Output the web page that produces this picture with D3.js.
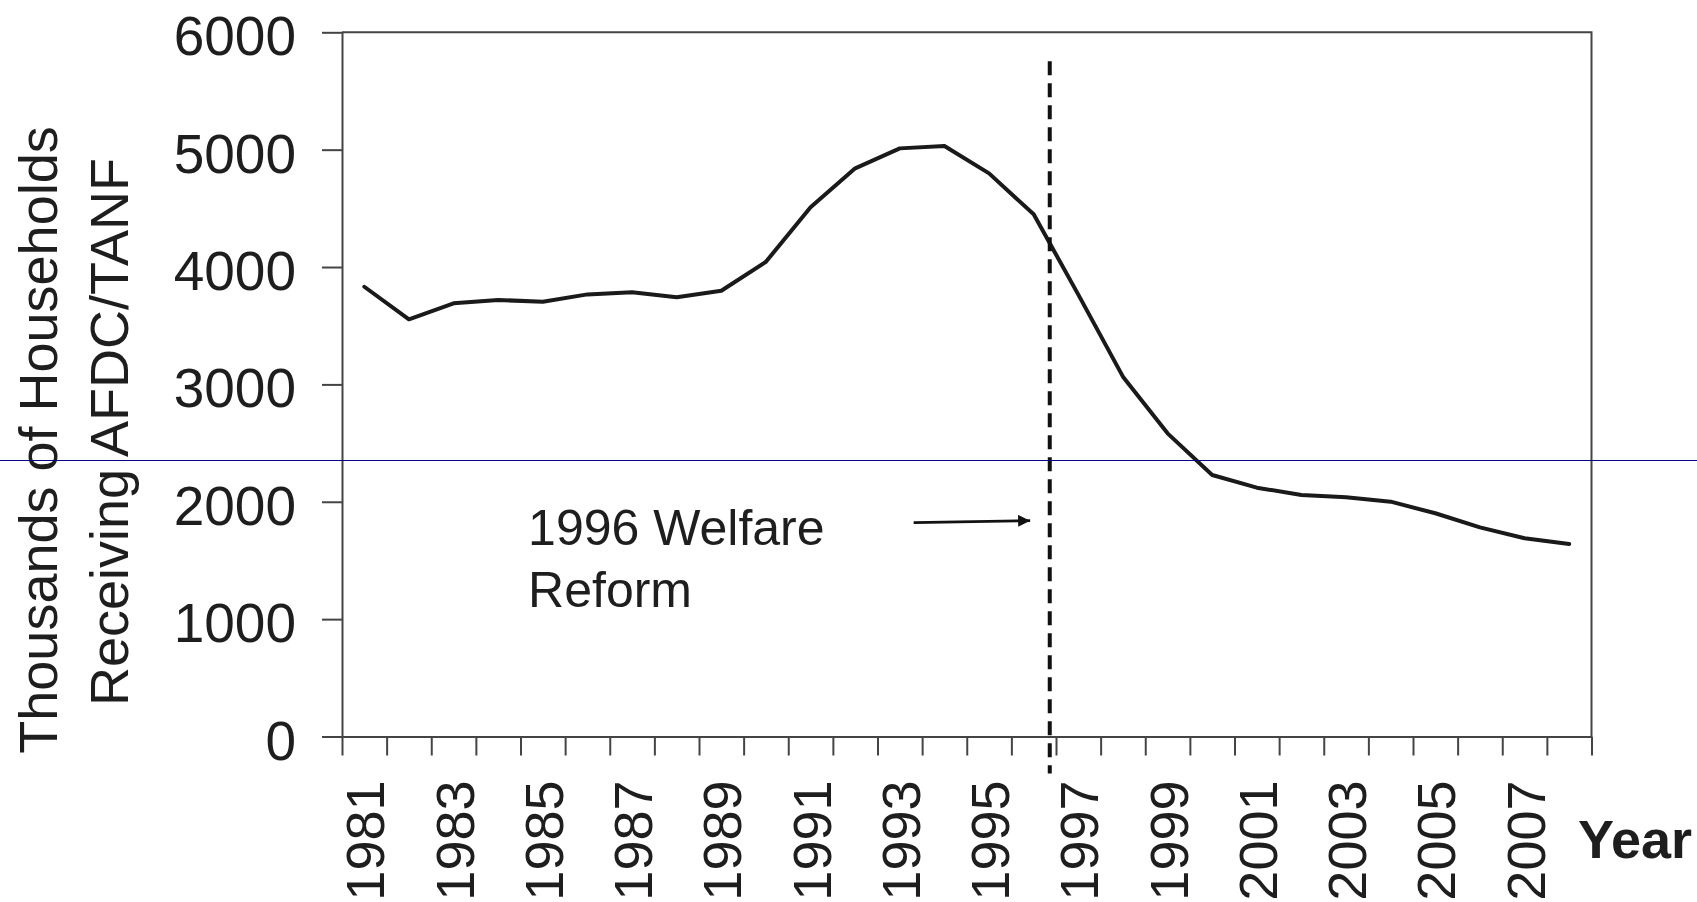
<!DOCTYPE html>
<html>
<head>
<meta charset="utf-8">
<script src="https://cdn.jsdelivr.net/npm/d3@7"></script>
<style>
  html, body { margin: 0; padding: 0; background: #fff; }
  svg { display: block; }
  text { font-family: "Liberation Sans", Arial, Helvetica, sans-serif; fill: #1e1e1e; }
</style>
</head>
<body>
<svg id="chart" width="1697" height="902"></svg>
<script>
// ---- data ----
const years = [1981, 1982, 1983, 1984, 1985, 1986, 1987, 1988, 1989, 1990,
               1991, 1992, 1993, 1994, 1995, 1996, 1997, 1998, 1999, 2000,
               2001, 2002, 2003, 2004, 2005, 2006, 2007, 2008];
const households = [3832, 3555, 3691, 3719, 3705, 3767, 3785, 3742, 3798, 4045,
                    4509, 4841, 5011, 5031, 4798, 4449, 3765, 3066, 2583, 2228,
                    2120, 2058, 2038, 2001, 1902, 1782, 1689, 1640];
const yTicks = [0, 1000, 2000, 3000, 4000, 5000, 6000];
const xLabelYears = [1981, 1983, 1985, 1987, 1989, 1991, 1993, 1995, 1997, 1999, 2001, 2003, 2005, 2007];
const reformYear = 1996.36;
const annotationLines = ["1996 Welfare", "Reform"];
const yTitleLines = ["Thousands of Households", "Receiving AFDC/TANF"];
const xTitle = "Year";

// ---- layout ----
const plotL = 342, plotR = 1591.5, plotT = 32.3, plotB = 736.5;
const svg = d3.select("#chart");

const x = d3.scaleLinear().domain([years[0] - 0.5, years[years.length - 1] + 0.5]).range([plotL, plotR]);
const y = d3.scaleLinear().domain([0, 6000]).range([plotB, plotT]);

const axisColor = "#444";

// plot frame (top + right)
svg.append("path")
  .attr("d", `M${plotL},${plotT}H${plotR}V${plotB}`)
  .attr("fill", "none").attr("stroke", axisColor).attr("stroke-width", 2);

// y axis
const yAxis = svg.append("g")
  .attr("transform", `translate(${plotL},0)`)
  .call(d3.axisLeft(y).tickValues(yTicks).tickSize(20).tickSizeOuter(0).tickPadding(26).tickFormat(d3.format("d")));
yAxis.select(".domain").attr("stroke", axisColor).attr("stroke-width", 2);
yAxis.selectAll(".tick line").attr("stroke", axisColor).attr("stroke-width", 2);
yAxis.selectAll(".tick text")
  .attr("dy", "0.41em")
  .style("font-size", "55px").style("font-family", "'Liberation Sans', Arial, sans-serif").attr("fill", "#1e1e1e");

// x axis: tick marks at category boundaries
const boundaries = years.map(d => d - 0.5).concat([years[years.length - 1] + 0.5]);
const xAxis = svg.append("g")
  .attr("transform", `translate(0,${plotB})`)
  .call(d3.axisBottom(x).tickValues(boundaries).tickSize(19).tickSizeOuter(0).tickFormat(""));
xAxis.select(".domain").attr("stroke", axisColor).attr("stroke-width", 2);
xAxis.selectAll(".tick line").attr("stroke", axisColor).attr("stroke-width", 2);

// x labels (rotated) at category centres
const xLab = svg.append("g")
  .attr("transform", `translate(0,${plotB})`)
  .call(d3.axisBottom(x).tickValues(xLabelYears).tickSize(0).tickFormat(d3.format("d")));
xLab.select(".domain").remove();
xLab.selectAll(".tick text")
  .attr("transform", "rotate(-90)")
  .attr("text-anchor", "end")
  .attr("x", -44)
  .attr("y", 0)
  .attr("dy", "0.36em")
  .style("font-size", "54px").style("font-family", "'Liberation Sans', Arial, sans-serif").attr("fill", "#1e1e1e");

// data line
const line = d3.line().x((d, i) => x(years[i])).y(d => y(d));
svg.append("path")
  .datum(households)
  .attr("d", line)
  .attr("fill", "none")
  .attr("stroke", "#1a1a1a")
  .attr("stroke-width", 4)
  .attr("stroke-linejoin", "round")
  .attr("stroke-linecap", "round");

// reform dashed line
svg.append("line")
  .attr("x1", x(reformYear)).attr("x2", x(reformYear))
  .attr("y1", y(6000) + 29).attr("y2", plotB + 37)
  .attr("stroke", "#111").attr("stroke-width", 4)
  .attr("stroke-dasharray", "14,8");

// annotation text
const ann = svg.append("text")
  .attr("x", x(1984.67)).attr("y", y(1632))
  .style("font-size", "50px");
annotationLines.forEach((t, i) => {
  ann.append("tspan").attr("x", x(1984.67)).attr("dy", i === 0 ? 0 : 61.7).text(t);
});

// arrow
svg.append("defs").append("marker")
  .attr("id", "arrowhead")
  .attr("viewBox", "0 0 10 10").attr("refX", 10).attr("refY", 5)
  .attr("markerWidth", 15).attr("markerHeight", 12)
  .attr("markerUnits", "userSpaceOnUse")
  .attr("orient", "auto")
  .append("path").attr("d", "M0,0L10,5L0,10Z").attr("fill", "#111");
svg.append("line")
  .attr("x1", x(1993.31)).attr("y1", y(1822))
  .attr("x2", x(1995.92)).attr("y2", y(1839))
  .attr("stroke", "#111").attr("stroke-width", 2.8)
  .attr("marker-end", "url(#arrowhead)");

// y axis title (two rotated lines)
const yTitlePos = [{bx: 57.4, cy: 440}, {bx: 128, cy: 432}];
yTitleLines.forEach((t, i) => {
  svg.append("text")
    .attr("transform", `translate(${yTitlePos[i].bx},${yTitlePos[i].cy}) rotate(-90)`)
    .attr("text-anchor", "middle")
    .style("font-size", "54px")
    .text(t);
});

// x axis title
svg.append("text")
  .attr("x", 1578).attr("y", 858)
  .style("font-size", "54px").style("font-weight", "bold")
  .text(xTitle);

// thin navy rule across the picture (present in the reference)
svg.append("line")
  .attr("x1", 0).attr("x2", 1697)
  .attr("y1", 460.5).attr("y2", 460.5)
  .attr("stroke", "#000080").attr("stroke-width", 1.2);
</script>
</body>
</html>
